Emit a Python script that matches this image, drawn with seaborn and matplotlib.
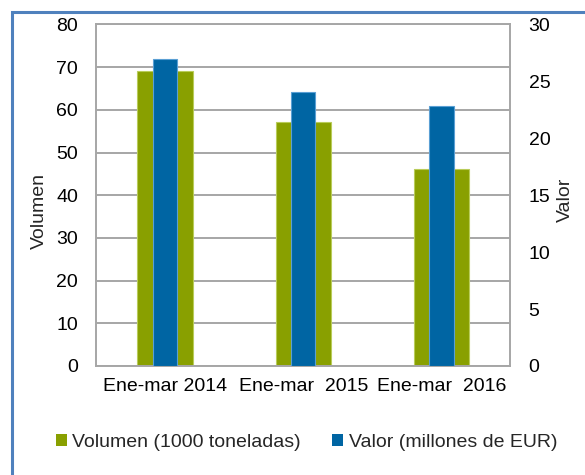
import matplotlib
matplotlib.use("Agg")
import matplotlib.pyplot as plt
import seaborn as sns
import pandas as pd
from matplotlib.patches import Patch, Rectangle

periodos = ["Ene-mar 2014", "Ene-mar  2015", "Ene-mar  2016"]
volumen = [69.0, 57.1, 46.2]   # 1000 toneladas (eje izquierdo)
valor = [27.0, 24.1, 22.8]     # millones de EUR (eje derecho)
ticks_vol = [0, 10, 20, 30, 40, 50, 60, 70, 80]
ticks_val = [0, 5, 10, 15, 20, 25, 30]

VERDE = "#89A000"
AZUL = "#0065A3"
GRIS = "#A6A6A6"

df = pd.DataFrame({"periodo": periodos, "volumen": volumen, "valor": valor})

sns.set_theme(style="white")
plt.rcParams["font.family"] = ["Liberation Sans", "DejaVu Sans"]

fig = plt.figure(figsize=(5.85, 4.75), dpi=100)
ax = fig.add_axes([0.1641, 0.2295, 0.7085, 0.7191])
ax2 = ax.twinx()

sns.barplot(data=df, x="periodo", y="volumen", color=VERDE, saturation=1,
            width=0.4, edgecolor="#B9CC5A", linewidth=0.8, ax=ax, zorder=2)
sns.barplot(data=df, x="periodo", y="valor", color=AZUL, saturation=1,
            width=0.177, edgecolor="#5A9FD4", linewidth=0.8, ax=ax2, zorder=3)

ax.set_xlim(-0.5, 2.5)
ax2.set_xlim(-0.5, 2.5)
ax.set_ylim(0, 80)
ax2.set_ylim(0, 30)
ax.set_yticks(ticks_vol)
ax2.set_yticks(ticks_val)

ax.set_axisbelow(True)
ax.yaxis.grid(True, color=GRIS, linewidth=1.4)
ax.xaxis.grid(False)
ax2.grid(False)
ax2.patch.set_visible(False)

for a in (ax, ax2):
    for s in a.spines.values():
        s.set_color(GRIS)
        s.set_linewidth(1.2)
    a.tick_params(axis="y", length=0, pad=13, labelsize=14, colors="black")
    a.tick_params(axis="x", length=0, pad=9, labelsize=14, colors="black")

ax.set_xlabel("")
ax2.set_xlabel("")
ax.set_ylabel("Volumen", fontsize=14, labelpad=6)
ax2.set_ylabel("Valor", fontsize=14, labelpad=5)
ax.yaxis.label.set_y(0.454)
ax2.yaxis.label.set_y(0.486)

handles = [Patch(facecolor=VERDE, edgecolor="none", label="Volumen (1000 toneladas)"),
           Patch(facecolor=AZUL, edgecolor="none", label="Valor (millones de EUR)")]
fig.legend(handles=handles, loc="center", bbox_to_anchor=(0.524, 0.068), ncol=2,
           frameon=False, fontsize=14, handlelength=0.55, handleheight=0.55,
           handletextpad=0.3, columnspacing=1.6)

fig.patches.append(Rectangle((0.0197, -0.5), 2.0, 1.4747, transform=fig.transFigure,
                             fill=False, edgecolor="#4F81BD", linewidth=2.2))

fig.savefig("out.png", dpi=100)
plt.close(fig)
